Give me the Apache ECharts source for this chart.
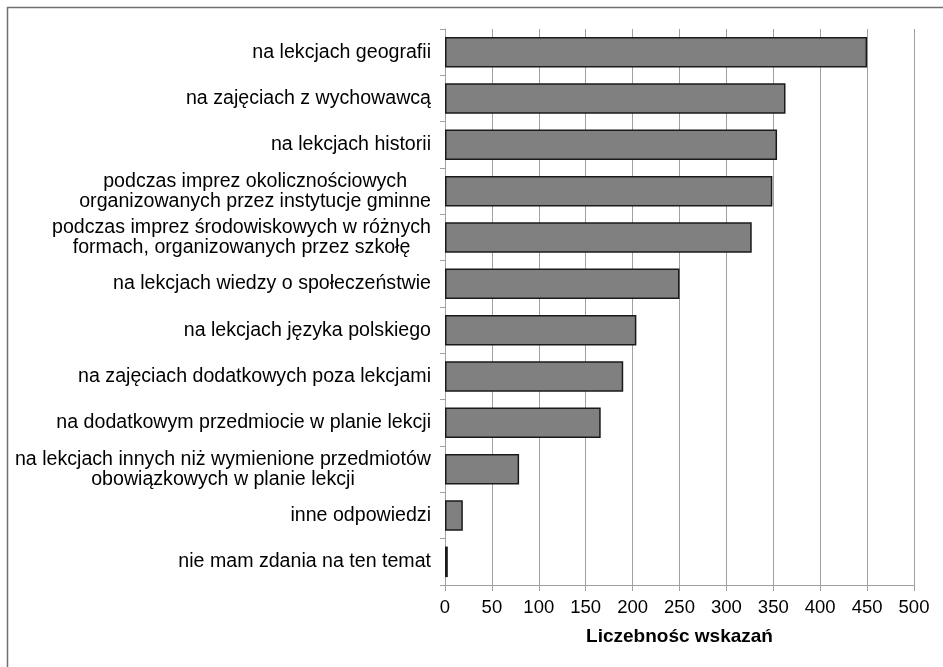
<!DOCTYPE html>
<html>
<head>
<meta charset="utf-8">
<script src="https://cdn.jsdelivr.net/npm/echarts@6/dist/echarts.min.js"></script>
<style>
  html, body { margin: 0; padding: 0; background: #fff; }
  #chart { width: 943px; height: 667px; }
</style>
</head>
<body>
<div id="chart"></div>
<script>
// kategorie (od góry do dołu)
const categories = [
    'na lekcjach geografii',
    'na zajęciach z wychowawcą',
    'na lekcjach historii',
    'podczas imprez okolicznościowych\norganizowanych przez instytucje gminne',
    'podczas imprez środowiskowych w różnych\nformach, organizowanych przez szkołę',
    'na lekcjach wiedzy o społeczeństwie',
    'na lekcjach języka polskiego',
    'na zajęciach dodatkowych poza lekcjami',
    'na dodatkowym przedmiocie w planie lekcji',
    'na lekcjach innych niż wymienione przedmiotów\nobowiązkowych w planie lekcji',
    'inne odpowiedzi',
    'nie mam zdania na ten temat'
];
const values = [450, 363, 354, 349, 327, 250, 204, 190, 166, 79, 19, 3];
const axisTitle = 'Liczebnośc wskazań';

const FONT = '"Liberation Sans", Arial, sans-serif';

const chart = echarts.init(document.getElementById('chart'));
chart.setOption({
    animation: false,
    textStyle: { fontFamily: FONT },
    // ramka wykresu
    graphic: [{
        type: 'rect',
        shape: { x: 7.5, y: 7.5, width: 1200, height: 1200 },
        style: { fill: 'none', stroke: '#707070', lineWidth: 1.5 },
        silent: true
    }],
    grid: { left: 445, right: 29, top: 29, bottom: 82 },
    xAxis: {
        type: 'value',
        min: 0,
        max: 500,
        interval: 50,
        name: axisTitle,
        nameLocation: 'middle',
        nameGap: 42,
        nameTextStyle: { color: '#000', fontSize: 19, fontWeight: 'bold', fontFamily: FONT },
        axisLine: { show: true, lineStyle: { color: '#a0a0a0', width: 1 } },
        axisTick: { show: true, length: 6, lineStyle: { color: '#a0a0a0' } },
        axisLabel: { color: '#000', fontSize: 18.5, margin: 13, fontFamily: FONT },
        splitLine: { show: true, lineStyle: { color: '#a0a0a0', width: 1 } }
    },
    yAxis: {
        type: 'category',
        inverse: true,
        data: categories,
        axisLine: { show: true, lineStyle: { color: '#a0a0a0', width: 1 } },
        axisTick: { show: true, length: 5, lineStyle: { color: '#a0a0a0' } },
        axisLabel: {
            color: '#000',
            fontSize: 19.6,
            lineHeight: 20,
            margin: 14,
            fontFamily: FONT,
            // wiersze wyśrodkowane względem siebie, blok wyrównany do prawej
            formatter: function (v) {
                return v.split('\n').map(function (l) { return '{c|' + l + '}'; }).join('\n');
            },
            rich: {
                c: { align: 'center', fontSize: 19.6, lineHeight: 20, color: '#000', fontFamily: FONT }
            }
        }
    },
    series: [{
        type: 'bar',
        data: values,
        barCategoryGap: '34%',
        itemStyle: { color: '#808080', borderColor: '#1a1a1a', borderWidth: 1.5 }
    }]
});
</script>
</body>
</html>
